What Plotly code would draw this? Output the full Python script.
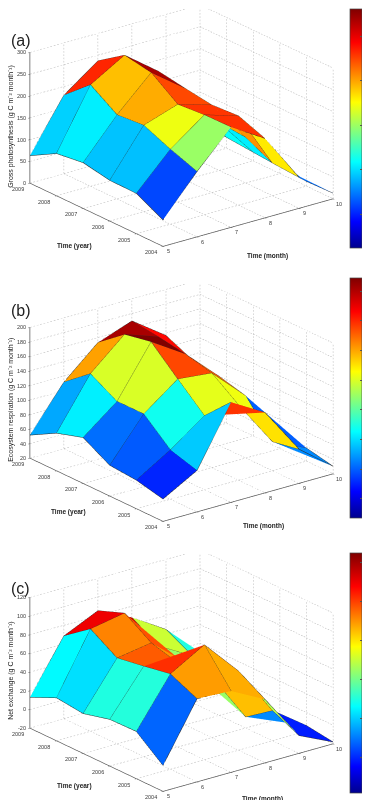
import plotly.graph_objects as go

months = [5, 6, 7, 8, 9, 10]
years = [2009, 2008, 2007, 2006, 2005, 2004]

gross_photosynthesis = [
    [63, 180, 237, 175, 120, 30],
    [97, 233, 279, 220, 130, 25],
    [105, 193, 268, 210, 110, 20],
    [93.5, 198, 224, 201, 105, 15],
    [92.6, 172, 229, 205, 75, 11],
    [60.6, 150, 230, 182, 71, 13],
]
ecosystem_respiration = [
    [51.7, 111.6, 153, 169.6, 136.5, 70],
    [71.8, 140.7, 181.5, 165, 120, 60],
    [83.2, 119.9, 188.8, 159, 115, 45],
    [62.4, 120, 154.9, 150, 105.5, 40],
    [59.3, 87.9, 121.9, 123.7, 60, 38],
    [50.8, 77.1, 158, 130.6, 67, 30.4],
]
net_exchange = [
    [13, 68.6, 85.4, 68, 45, 10],
    [26, 89.6, 96.3, 51, 30, 5],
    [22.7, 72, 78, 45, 5, -5],
    [30, 76.7, 70, 45, -8, -16.5],
    [30.6, 82, 103, 64.8, 12.4, -14],
    [7.8, 69, 67, 48, -1, -18],
]
z_ticks_a = [0, 50, 100, 150, 200, 250, 300]
z_ticks_b = [20, 40, 60, 80, 100, 120, 140, 160, 180, 200]
z_ticks_c = [-20, 0, 20, 40, 60, 80, 100, 120]
cbar_ticks_a = [50, 100, 150, 200, 250]
cbar_ticks_b = [40, 60, 80, 100, 120, 140, 160, 180]
cbar_ticks_c = [0, 20, 40, 60, 80, 100]
cbar_range_a = [12, 281]
cbar_range_b = [27, 189]
cbar_range_c = [-18, 105]

W, H = 370, 800
JET = [[0, "rgb(0,0,143)"], [0.11, "rgb(0,0,255)"], [0.36, "rgb(0,255,255)"],
       [0.61, "rgb(255,255,0)"], [0.86, "rgb(255,0,0)"], [1, "rgb(128,0,0)"]]
FONT = "Liberation Sans, Arial, sans-serif"
TICK = "#3a3a3a"
EYE_N = 2.0
EYE = dict(x=-0.574 * EYE_N, y=-0.748 * EYE_N, z=0.333 * EYE_N)
ASPECT = 1.715

panels = [
    dict(z=gross_photosynthesis, zt=z_ticks_a, cb=cbar_ticks_a, cr=cbar_range_a, scene="scene",
         cy=(126, 1, 251), bar=(1, 240), tag="(a)", tag_y=32,
         title="Gross photosynthesis (g C m⁻² month⁻¹)", ty=118, zx=6,
         yl=(68, 238), ml=(265, 248)),
    dict(z=ecosystem_respiration, zt=z_ticks_b, cb=cbar_ticks_b, cr=cbar_range_b, scene="scene2",
         cy=(401, 276, 526), bar=(270, 510), tag="(b)", tag_y=303,
         title="Ecosystem respiration (g C m⁻² month⁻¹)", ty=392, zx=6,
         yl=(62, 504), ml=(261, 518)),
    dict(z=net_exchange, zt=z_ticks_c, cb=cbar_ticks_c, cr=cbar_range_c, scene="scene3",
         cy=(671, 546, 796), bar=(545, 785), tag="(c)", tag_y=580,
         title="Net exchange (g C m⁻² month⁻¹)", ty=662, zx=6,
         yl=(68, 778), ml=(260, 791)),
]

fig = go.Figure()
annotations = []
for p in panels:
    Z = p["z"]
    n_y, n_x = len(years), len(months)
    xs, ys, zs = [], [], []
    for r in range(n_y):
        for c in range(n_x):
            xs.append(months[c]); ys.append(years[r]); zs.append(Z[r][c])
    I, J, K, cell = [], [], [], []
    for r in range(n_y - 1):
        for c in range(n_x - 1):
            a = r * n_x + c
            b = a + 1
            d = (r + 1) * n_x + c
            e = d + 1
            v = Z[r + 1][c]  # facet takes the colour of its earliest-year, earliest-month corner
            I += [a, a]; J += [b, e]; K += [e, d]
            cell += [v, v]
    fig.add_trace(go.Mesh3d(
        x=xs, y=ys, z=zs, i=I, j=J, k=K, intensity=cell, intensitymode="cell",
        colorscale=JET, cmin=p["cr"][0], cmax=p["cr"][1], flatshading=True,
        lighting=dict(ambient=1, diffuse=0, specular=0, roughness=1, fresnel=0),
        hoverinfo="skip", scene=p["scene"],
        colorbar=dict(
            x=350 / W, xanchor="left", xref="paper", thickness=12, thicknessmode="pixels",
            lenmode="fraction", len=(p["bar"][1] - p["bar"][0]) / H,
            y=1 - p["bar"][1] / H, yanchor="bottom", yref="paper",
            tickmode="array", tickvals=p["cb"], ticktext=[str(v) for v in p["cb"]],
            ticks="inside", ticklen=2, tickwidth=0.5, tickcolor="#555",
            tickfont=dict(size=6, family=FONT, color="rgba(0,0,0,0)"), showticklabels=True,
            outlinewidth=0.7, outlinecolor="#444", xpad=0, ypad=0),
    ))
    # facet edges
    lx, ly, lz = [], [], []
    for r in range(n_y):
        for c in range(n_x):
            lx.append(months[c]); ly.append(years[r]); lz.append(Z[r][c])
        lx.append(None); ly.append(None); lz.append(None)
    for c in range(n_x):
        for r in range(n_y):
            lx.append(months[c]); ly.append(years[r]); lz.append(Z[r][c])
        lx.append(None); ly.append(None); lz.append(None)
    fig.add_trace(go.Scatter3d(x=lx, y=ly, z=lz, mode="lines", line=dict(color="#2a2a2a", width=1),
                               hoverinfo="skip", showlegend=False, scene=p["scene"]))
    # dotted grid on the back walls and floor: each rule is cut into short pieces
    zmin, zmax = p["zt"][0], p["zt"][-1]
    gx, gy, gz = [], [], []
    def seg(a, b, pieces=50):
        for k in range(pieces):
            s0, s1 = k / pieces, (k + 0.5) / pieces
            for q, out in zip(range(3), (gx, gy, gz)):
                out.extend([a[q] + (b[q] - a[q]) * s0, a[q] + (b[q] - a[q]) * s1, None])
    for t in p["zt"]:
        seg((5, 2009, t), (10, 2009, t)); seg((10, 2009, t), (10, 2004, t))
    for m in months:
        seg((m, 2009, zmin), (m, 2009, zmax), 40); seg((m, 2009, zmin), (m, 2004, zmin))
    for y in years:
        seg((10, y, zmin), (10, y, zmax), 40); seg((5, y, zmin), (10, y, zmin))
    fig.add_trace(go.Scatter3d(x=gx, y=gy, z=gz, mode="lines",
                               line=dict(color="#b4b4b4", width=1),
                               hoverinfo="skip", showlegend=False, scene=p["scene"]))
    common = dict(showbackground=False, showgrid=False, zeroline=False, showspikes=False,
                  showline=True, linecolor="#555", linewidth=1.5, ticks="outside", ticklen=2,
                  tickcolor="#555", title=dict(text=""), showticklabels=False)
    tick_labels = []
    def tl(x, y, z, text, xa, xs_, ys_):
        tick_labels.append(dict(x=x, y=y, z=z, text=text, showarrow=False, xanchor=xa, yanchor="middle",
                                xshift=xs_, yshift=ys_, font=dict(size=5.5, family=FONT, color=TICK)))
    for m in months:
        tl(m, 2004, zmin, str(m), "center", 6, -5)
    for yr in years:
        tl(5, yr, zmin, str(yr), "right", -4, -6)
    for t in p["zt"]:
        tl(5, 2009, t, str(t), "right", -2, 0)
    cx, cy0, cy1 = 177, p["cy"][1], p["cy"][2]
    fig.update_layout(**{p["scene"]: dict(
        domain=dict(x=[(cx - 170) / W, (cx + 170) / W], y=[1 - cy1 / H, 1 - cy0 / H]),
        camera=dict(eye=EYE, up=dict(x=0, y=0, z=1), center=dict(x=0, y=0, z=-0.072),
                    projection=dict(type="orthographic")),
        aspectmode="manual", aspectratio=dict(x=1 * ASPECT, y=1.02 * ASPECT, z=0.655 * ASPECT),
        xaxis=dict(range=[5, 10], tickvals=months, **common),
        yaxis=dict(range=[2004, 2009], tickvals=years, **common),
        zaxis=dict(range=[zmin, zmax], tickvals=p["zt"], **common),
        annotations=tick_labels,
    )})
    def ann(text, x, y, size, angle=0, bold=False, anchor="center", shift=0):
        annotations.append(dict(text=f"<b>{text}</b>" if bold else text, x=x / W, y=1 - y / H, xref="paper", yref="paper",
                                showarrow=False, textangle=angle, xanchor=anchor, yanchor="middle", xshift=shift,
                                borderpad=0, font=dict(size=size, family=FONT, color="#222")))
    ann(p["tag"], 13, p["tag_y"], 16)
    ann(p["title"], p["zx"], p["ty"], 7, angle=-90, shift=-3)
    ann("Time (year)", p["yl"][0], p["yl"][1], 6.5, bold=True)
    ann("Time (month)", p["ml"][0], p["ml"][1], 6.5, bold=True)
    for v in p["cb"]:
        frac = (v - p["cr"][0]) / (p["cr"][1] - p["cr"][0])
        ann(str(v), 363, p["bar"][1] - frac * (p["bar"][1] - p["bar"][0]), 5.5, anchor="left")

fig.update_layout(width=W, height=H, margin=dict(l=0, r=0, t=0, b=0), paper_bgcolor="white",
                  showlegend=False, annotations=annotations)
fig.write_html("out.html", config=dict(displayModeBar=False))
